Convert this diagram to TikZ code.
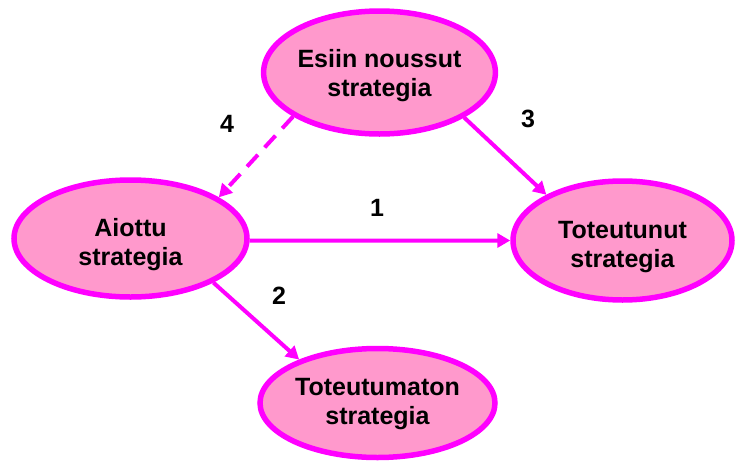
\documentclass[tikz,border=0pt]{standalone}
\usepackage{fontspec}
\setmainfont{Liberation Sans}
\usetikzlibrary{arrows.meta,shapes.geometric}
\definecolor{ringmag}{HTML}{FF00FF}
\definecolor{ringfill}{HTML}{FF99CC}
% two-line caption set a little below the ellipse centre
\newcommand\lowtext[2]{\raisebox{0pt}[\dimexpr\height+#1*2\relax][\depth]{\begin{tabular}{@{}c@{}}#2\end{tabular}}}
\begin{document}
\begin{tikzpicture}[x=1pt,y=-1pt,
  strat/.style={ellipse, draw=ringmag, fill=ringfill, line width=5.5pt,
    inner sep=0pt, align=center,
    font=\fontsize{25}{29}\selectfont\bfseries},
  flow/.style={draw=ringmag, line width=4pt,
    -{Triangle[length=13pt,width=14pt]}},
  flowdash/.style={flow, dash pattern=on 16pt off 10pt},
  numlab/.style={font=\fontsize{25}{29}\selectfont\bfseries, inner sep=0pt}]
  \useasboundingbox (0,0) rectangle (737,461);

  % strategy ellipses
  \node[strat, minimum width=231pt, minimum height=123pt] (esiin) at (379.5,72.5) {\lowtext{4pt}{Esiin noussut\\strategia}};
  \node[strat, minimum width=233pt, minimum height=117pt] (aiottu) at (130.5,238.5) {\lowtext{7pt}{Aiottu\\strategia}};
  \node[strat, minimum width=219pt, minimum height=119pt] (toteut) at (622.5,240.5) {\lowtext{7pt}{Toteutunut\\strategia}};
  \node[strat, minimum width=235pt, minimum height=109pt] (toteum) at (377.5,403) {\lowtext{1pt}{Toteutumaton\\strategia}};

  % connectors
  \draw[flow] (aiottu.-1) -- (toteut.180);
  \draw[flow] (aiottu.-28) -- (toteum.151);
  \draw[flow] (esiin.-28) -- (toteut.149);
  \draw[flowdash] (esiin.207) -- (aiottu.25);

  % connector numbers
  \node[numlab] (lab1) at (377,208) {1};
  \node[numlab] (lab2) at (279,296) {2};
  \node[numlab] (lab3) at (528,119) {3};
  \node[numlab] (lab4) at (227,124) {4};
\end{tikzpicture}
\end{document}
